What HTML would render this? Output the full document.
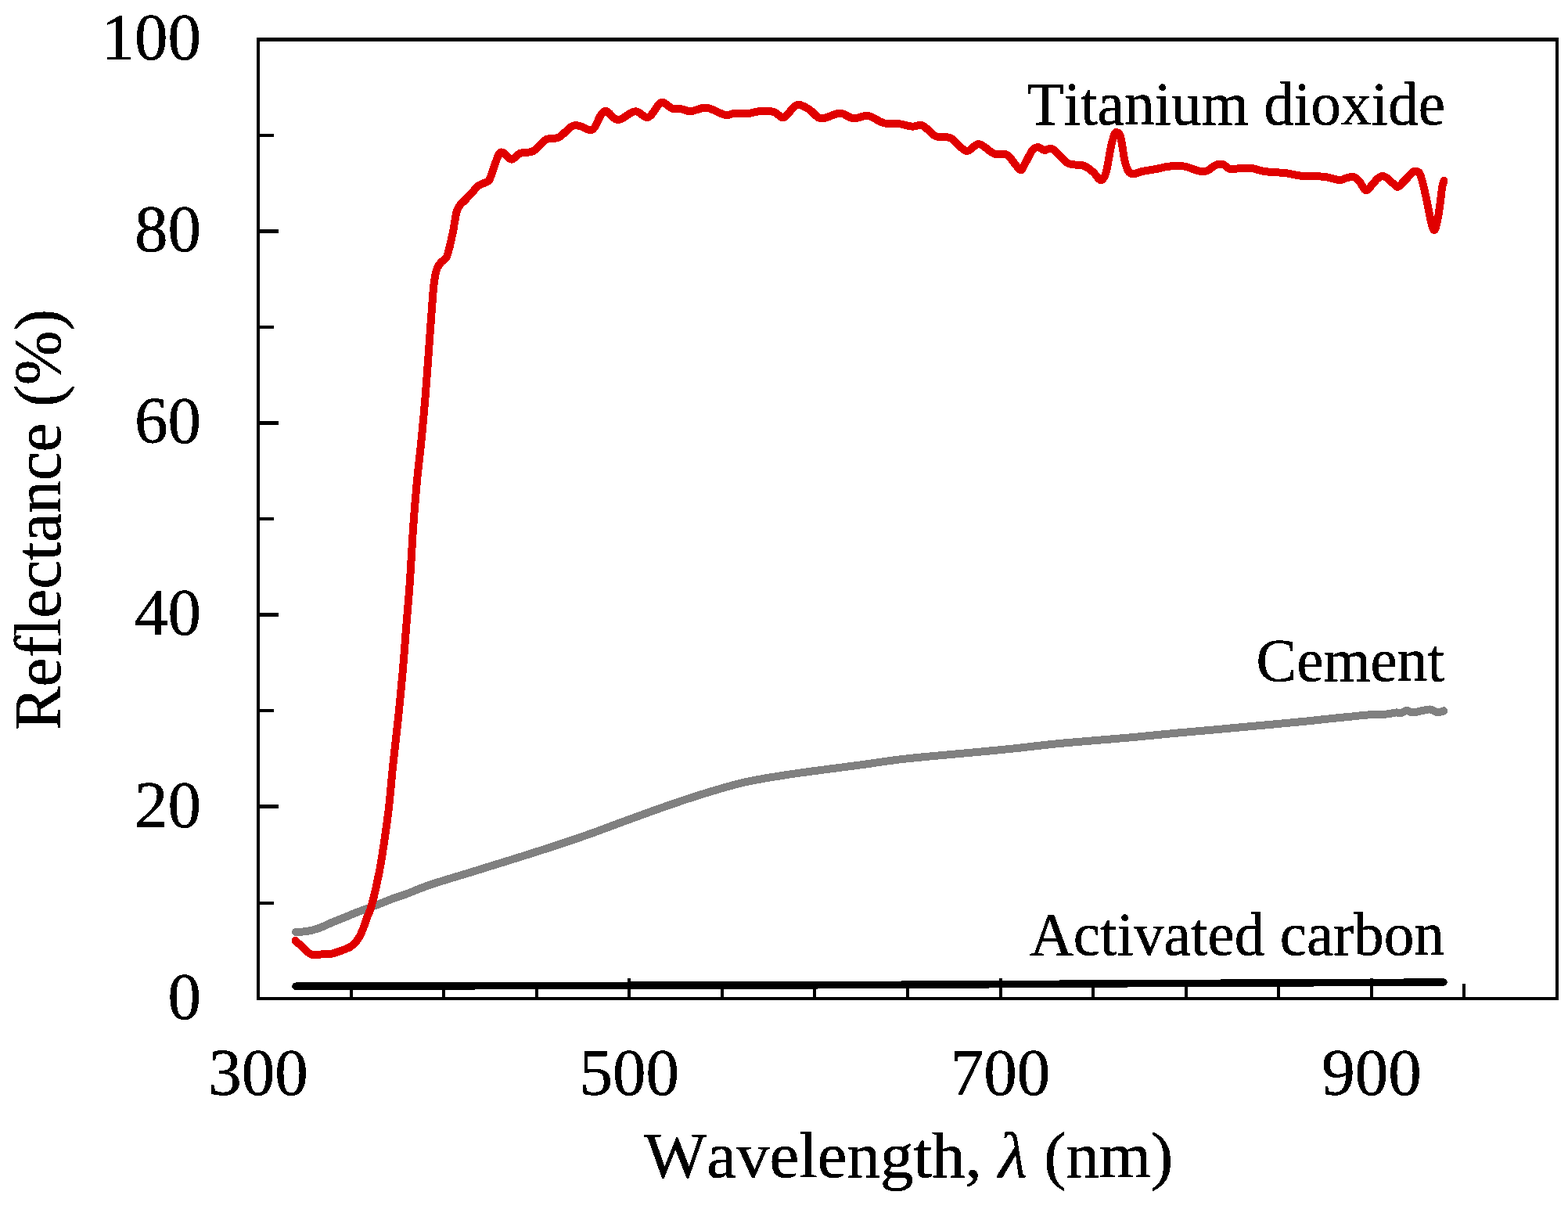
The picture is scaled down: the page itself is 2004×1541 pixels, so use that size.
<!DOCTYPE html>
<html lang="en"><head><meta charset="utf-8"><title>Reflectance spectra</title>
<style>
html,body{margin:0;padding:0;background:#fff;}
body{width:2004px;height:1541px;overflow:hidden;}
.chart{position:relative;width:2004px;height:1541px;background:#fff;overflow:hidden;}
svg{display:block;position:absolute;left:0;top:0;}
.txt{z-index:1;filter:contrast(1000);}
.plot{z-index:2;}
text{font-family:"Liberation Serif","DejaVu Serif",serif;fill:#000;font-kerning:none;stroke:#000;stroke-width:0.5px;stroke-linejoin:round;}
.tick{font-size:85px;}
.title{font-size:83.2px;}
.lab{font-size:77.3px;}
.ytitle{font-size:83.2px;}
</style></head><body>
<div class="chart">
<svg class="plot" width="2004" height="1541" viewBox="0 0 2004 1541">
<g fill="none" stroke-linecap="round" stroke-linejoin="round" shape-rendering="crispEdges">
<path stroke="#808080" stroke-width="10" d="M378.0 1191.0C380.3 1190.8 386.9 1190.8 391.9 1190.0C396.9 1189.2 402.6 1187.8 407.9 1185.9C413.2 1184.1 418.6 1181.1 423.9 1178.9C429.2 1176.7 434.5 1174.7 439.8 1172.5C445.1 1170.3 450.5 1168.0 455.8 1165.9C461.1 1163.8 466.5 1162.0 471.8 1160.0C477.1 1158.0 482.4 1156.1 487.7 1154.0C493.0 1151.9 498.3 1149.6 503.7 1147.6C509.1 1145.6 512.3 1144.9 520.0 1142.1C527.7 1139.2 536.7 1135.0 550.0 1130.5C563.3 1126.0 583.3 1120.2 600.0 1115.1C616.7 1109.9 633.3 1104.8 650.0 1099.6C666.7 1094.4 683.3 1089.2 700.0 1083.8C716.7 1078.4 733.3 1072.9 750.0 1067.0C766.7 1061.1 783.3 1054.7 800.0 1048.6C816.7 1042.5 833.3 1036.4 850.0 1030.6C866.7 1024.8 883.3 1019.1 900.0 1014.0C916.7 1008.9 933.3 1003.8 950.0 999.9C966.7 996.0 983.3 993.6 1000.0 990.9C1016.7 988.2 1033.3 986.1 1050.0 983.9C1066.7 981.6 1083.3 979.6 1100.0 977.4C1116.7 975.1 1133.3 972.4 1150.0 970.4C1166.7 968.4 1183.3 967.0 1200.0 965.4C1216.7 963.8 1233.3 962.5 1250.0 960.9C1266.7 959.3 1283.3 957.8 1300.0 956.0C1316.7 954.2 1333.3 952.0 1350.0 950.4C1366.7 948.8 1383.3 947.5 1400.0 946.1C1416.7 944.7 1433.3 943.4 1450.0 941.9C1466.7 940.4 1483.3 938.5 1500.0 937.0C1516.7 935.5 1533.3 934.1 1550.0 932.6C1566.7 931.1 1583.3 929.5 1600.0 928.0C1616.7 926.5 1637.5 924.6 1650.0 923.4C1662.5 922.2 1666.7 921.9 1675.0 921.0C1683.3 920.1 1691.8 919.1 1700.0 918.3C1708.2 917.4 1716.0 916.7 1724.0 915.9C1732.0 915.1 1740.0 914.1 1748.0 913.5C1756.0 912.9 1766.0 913.0 1772.0 912.5C1778.0 912.0 1780.6 910.8 1783.8 910.5C1787.0 910.2 1788.6 911.4 1791.0 911.0C1793.4 910.6 1795.8 908.0 1798.2 907.9C1800.6 907.8 1802.5 910.4 1805.4 910.5C1808.3 910.6 1812.1 909.2 1815.8 908.5C1819.5 907.8 1824.1 906.2 1827.7 906.5C1831.3 906.8 1834.4 910.0 1837.3 910.3C1840.2 910.6 1844.0 908.6 1845.3 908.3"/>
<path stroke="#e00000" stroke-width="10" d="M377.5 1202.0C378.6 1203.0 381.6 1205.6 384.0 1207.8C386.4 1210.0 389.5 1213.4 391.9 1215.4C394.3 1217.4 395.6 1218.9 398.3 1219.6C401.0 1220.3 405.0 1219.7 407.9 1219.6C410.8 1219.5 413.2 1219.4 415.9 1219.2C418.6 1219.0 421.2 1219.1 423.9 1218.6C426.6 1218.1 429.2 1217.1 431.9 1216.2C434.5 1215.3 437.1 1214.5 439.8 1213.4C442.5 1212.3 445.4 1211.3 447.8 1209.8C450.2 1208.3 452.2 1206.5 454.2 1204.3C456.2 1202.0 458.1 1199.4 459.8 1196.3C461.5 1193.2 462.9 1189.6 464.4 1185.9C465.8 1182.2 467.0 1178.0 468.5 1174.0C470.0 1170.0 471.8 1166.6 473.4 1161.9C474.9 1157.2 476.5 1151.3 477.8 1146.0C479.1 1140.7 479.8 1137.7 481.4 1130.0C483.0 1122.3 484.8 1115.5 487.3 1100.0C489.8 1084.5 493.9 1057.1 496.4 1036.8C498.9 1016.5 500.1 997.9 502.2 978.4C504.2 958.9 506.6 940.3 508.7 920.0C510.8 899.7 513.0 877.1 514.8 856.8C516.6 836.5 517.8 817.9 519.4 798.4C521.0 778.9 522.7 760.3 524.1 740.0C525.5 719.7 526.5 697.1 527.9 676.8C529.3 656.5 530.8 637.9 532.6 618.4C534.4 598.9 536.8 580.3 538.8 560.0C540.8 539.7 542.8 517.1 544.4 496.8C546.0 476.5 547.3 457.9 548.7 438.4C550.1 418.9 552.1 392.2 553.0 380.0C553.9 367.8 553.8 370.1 554.3 365.4C554.8 360.7 555.5 355.7 556.3 351.9C557.1 348.1 557.7 345.3 558.9 342.5C560.1 339.7 561.8 337.4 563.6 335.3C565.4 333.2 568.2 332.4 569.8 330.1C571.4 327.9 572.0 325.3 573.0 321.8C574.0 318.3 575.1 313.8 576.1 309.3C577.1 304.8 578.3 299.3 579.2 294.8C580.1 290.3 580.5 286.5 581.3 282.3C582.1 278.1 582.7 273.3 583.9 269.8C585.1 266.3 586.6 263.8 588.3 261.5C589.9 259.2 591.2 259.0 593.8 256.3C596.4 253.6 601.2 248.5 604.0 245.4C606.8 242.3 608.1 239.7 610.6 237.8C613.1 235.9 616.5 235.0 618.7 233.9C620.9 232.8 622.4 232.8 623.8 231.5C625.2 230.2 624.9 231.5 627.0 226.2C629.1 220.9 633.9 204.8 636.5 199.5C639.1 194.2 639.6 194.0 642.5 194.7C645.4 195.4 649.9 203.5 653.6 203.7C657.3 203.9 660.2 197.6 664.8 195.8C669.4 194.0 675.8 196.0 681.3 193.1C686.8 190.2 692.2 181.3 697.7 178.4C703.2 175.5 708.7 178.3 714.2 175.5C719.7 172.7 726.2 163.8 730.7 161.4C735.2 159.0 737.4 160.3 741.1 161.1C744.9 161.9 750.1 165.7 753.2 166.0C756.4 166.3 757.5 166.2 760.0 162.9C762.5 159.6 765.9 149.4 768.5 146.0C771.1 142.6 772.6 141.3 775.5 142.3C778.4 143.3 783.0 150.1 786.0 151.8C789.0 153.5 790.0 153.6 793.5 152.3C797.0 151.0 803.5 145.5 807.0 143.9C810.5 142.3 811.2 141.7 814.5 142.7C817.8 143.7 823.2 149.7 826.5 150.1C829.8 150.5 831.4 147.7 834.0 144.9C836.6 142.1 839.7 135.8 842.0 133.5C844.3 131.2 844.6 130.1 847.6 131.0C850.6 131.9 856.1 137.5 859.9 138.9C863.7 140.3 866.6 138.6 870.4 139.2C874.1 139.8 877.6 142.4 882.4 142.2C887.1 142.0 894.7 138.4 898.9 137.8C903.1 137.2 903.1 137.4 907.8 138.9C912.5 140.4 922.3 146.1 927.3 147.1C932.3 148.1 933.1 145.4 937.8 145.1C942.5 144.8 950.2 145.6 955.7 145.1C961.2 144.6 965.2 142.6 970.7 142.2C976.2 141.8 984.0 141.6 988.7 142.9C993.5 144.2 996.5 149.3 999.2 150.1C1001.9 150.9 1002.5 149.9 1005.0 147.8C1007.5 145.7 1011.2 139.7 1014.0 137.4C1016.8 135.1 1018.1 133.4 1021.6 133.9C1025.1 134.4 1031.0 137.7 1035.0 140.4C1039.0 143.1 1042.3 148.3 1045.6 150.0C1048.9 151.7 1050.6 151.4 1054.6 150.6C1058.6 149.8 1065.8 146.2 1069.5 145.3C1073.2 144.4 1073.5 144.3 1077.0 145.3C1080.5 146.3 1086.0 150.8 1090.5 151.3C1095.0 151.8 1100.4 148.9 1104.0 148.4C1107.6 147.9 1107.7 147.1 1112.0 148.6C1116.3 150.1 1123.9 155.7 1129.9 157.3C1135.9 158.9 1141.9 157.3 1147.9 158.0C1153.9 158.7 1160.7 161.2 1165.9 161.6C1171.1 162.0 1174.3 158.5 1179.3 160.6C1184.3 162.7 1189.8 171.3 1195.8 174.0C1201.8 176.7 1208.8 173.5 1215.3 176.6C1221.8 179.7 1228.7 191.5 1234.7 192.8C1240.7 194.1 1245.2 183.6 1251.2 184.2C1257.2 184.8 1264.7 194.2 1270.7 196.5C1276.7 198.8 1281.6 194.6 1287.1 198.0C1292.6 201.4 1299.8 214.6 1303.5 216.7C1307.2 218.8 1306.2 214.9 1309.0 210.7C1311.8 206.5 1316.9 195.0 1320.0 191.3C1323.1 187.6 1325.0 188.2 1327.5 188.3C1330.0 188.4 1332.0 191.6 1335.0 192.0C1338.0 192.4 1340.5 187.8 1345.5 190.6C1350.5 193.3 1358.5 205.0 1365.0 208.5C1371.5 212.0 1379.1 209.6 1384.4 211.5C1389.7 213.4 1393.3 216.7 1397.0 219.8C1400.7 222.9 1404.0 229.9 1406.7 230.2C1409.4 230.4 1411.3 228.0 1413.4 221.3C1415.5 214.6 1417.6 198.0 1419.4 189.8C1421.2 181.6 1422.9 175.3 1424.3 171.9C1425.7 168.5 1426.7 168.8 1428.0 169.3C1429.3 169.8 1430.6 169.0 1432.2 174.9C1433.8 180.8 1435.8 197.6 1437.4 204.8C1439.0 212.0 1440.2 215.4 1441.9 218.3C1443.6 221.2 1444.8 222.4 1447.8 222.5C1450.8 222.6 1454.8 220.1 1459.8 219.0C1464.8 217.9 1472.0 217.1 1477.8 216.0C1483.5 214.9 1488.3 213.2 1494.3 212.6C1500.3 212.0 1507.5 211.6 1513.7 212.6C1519.9 213.6 1527.0 217.4 1531.7 218.4C1536.5 219.4 1538.5 219.7 1542.2 218.4C1545.9 217.1 1550.6 212.2 1554.1 210.8C1557.6 209.4 1560.1 209.1 1563.1 210.0C1566.1 210.9 1568.3 215.2 1572.1 216.0C1575.8 216.8 1580.9 215.2 1585.6 215.0C1590.3 214.8 1595.5 214.3 1600.5 215.0C1605.5 215.7 1608.2 217.9 1615.5 219.0C1622.8 220.1 1636.0 220.3 1644.0 221.3C1652.0 222.3 1655.4 224.1 1663.4 224.8C1671.4 225.6 1683.9 224.9 1691.9 225.8C1699.9 226.7 1706.8 229.6 1711.3 230.0C1715.8 230.4 1716.5 228.7 1719.0 228.0C1721.5 227.3 1724.0 226.4 1726.0 226.1C1728.0 225.8 1729.1 225.3 1731.0 226.3C1732.9 227.3 1735.0 229.2 1737.5 232.0C1740.0 234.8 1743.0 242.8 1745.7 243.4C1748.5 244.0 1751.5 238.0 1754.0 235.5C1756.5 233.0 1758.3 230.2 1760.5 228.5C1762.7 226.8 1764.8 225.1 1767.0 225.0C1769.2 224.9 1771.3 226.5 1773.5 228.0C1775.7 229.5 1777.8 232.2 1780.0 234.0C1782.2 235.8 1784.3 239.0 1786.5 238.8C1788.7 238.6 1790.9 235.0 1793.0 233.0C1795.1 231.0 1797.2 228.9 1799.3 226.7C1801.4 224.5 1803.7 221.2 1805.4 219.9C1807.2 218.6 1808.5 218.8 1809.8 218.8C1811.1 218.9 1812.4 219.3 1813.4 220.2C1814.4 221.1 1814.5 220.9 1815.6 224.2C1816.7 227.5 1818.5 234.6 1819.8 239.9C1821.1 245.2 1822.3 250.6 1823.4 255.9C1824.5 261.2 1825.4 266.6 1826.5 271.9C1827.6 277.2 1828.9 283.8 1830.0 287.5C1831.1 291.2 1831.9 294.0 1832.9 294.0C1833.9 294.0 1834.8 291.2 1835.8 287.5C1836.8 283.8 1838.0 277.2 1838.9 271.9C1839.8 266.6 1840.4 261.2 1841.1 255.9C1841.8 250.6 1842.4 244.1 1843.1 239.9C1843.8 235.7 1845.0 232.4 1845.4 230.9"/>
<polyline stroke="#000" stroke-width="9.5" points="378.00,1260.20 607.00,1259.75 805.00,1259.25 1045.00,1258.75 1152.00,1258.25 1264.00,1257.75 1354.00,1257.25 1444.00,1256.75 1560.00,1256.25 1679.00,1255.75 1794.00,1255.25 1845.00,1255.00"/>
</g>
<g fill="#000" shape-rendering="crispEdges">
<rect x="328" y="48" width="4" height="1230"/>
<rect x="1988" y="48" width="4" height="1230"/>
<rect x="328" y="48" width="1664" height="4.6"/>
<rect x="328" y="1274" width="1664" height="4"/>
<rect x="446.6" y="1257.0" width="4" height="17.0"/>
<rect x="565.1" y="1257.0" width="4" height="17.0"/>
<rect x="683.7" y="1257.0" width="4" height="17.0"/>
<rect x="802.3" y="1250.0" width="4" height="24.0"/>
<rect x="920.9" y="1257.0" width="4" height="17.0"/>
<rect x="1039.4" y="1257.0" width="4" height="17.0"/>
<rect x="1158.0" y="1257.0" width="4" height="17.0"/>
<rect x="1276.6" y="1250.0" width="4" height="24.0"/>
<rect x="1395.1" y="1257.0" width="4" height="17.0"/>
<rect x="1513.7" y="1257.0" width="4" height="17.0"/>
<rect x="1632.3" y="1257.0" width="4" height="17.0"/>
<rect x="1750.9" y="1250.0" width="4" height="24.0"/>
<rect x="1869.4" y="1257.0" width="4" height="17.0"/>
<rect x="332" y="1152" width="18" height="4"/>
<rect x="332" y="1028" width="24" height="5"/>
<rect x="332" y="906" width="18" height="4"/>
<rect x="332" y="783" width="24" height="5"/>
<rect x="332" y="661" width="18" height="4"/>
<rect x="332" y="538" width="24" height="5"/>
<rect x="332" y="416" width="18" height="4"/>
<rect x="332" y="293" width="24" height="5"/>
<rect x="332" y="171" width="18" height="4"/>
</g>
</svg>
<svg class="txt" width="2004" height="1541" viewBox="0 0 2004 1541">
<rect x="0" y="0" width="2004" height="1541" fill="#fff"/>
<g>
<g class="tick" text-anchor="end">
<text x="257" y="1301.6">0</text>
<text x="257" y="1056.5">20</text>
<text x="257" y="811.3">40</text>
<text x="257" y="566.2">60</text>
<text x="257" y="321.0">80</text>
<text x="257" y="75.9">100</text>
</g>
<g class="tick" text-anchor="middle">
<text x="330.0" y="1399">300</text>
<text x="804.3" y="1399">500</text>
<text x="1278.6" y="1399">700</text>
<text x="1752.9" y="1399">900</text>
</g>
<text class="title" text-anchor="middle" transform="translate(1161.2,1504.3) scale(1.0216,1)">Wavelength, <tspan font-style="italic">λ</tspan> (nm)</text>
<text class="ytitle" text-anchor="middle" transform="translate(77,664) rotate(-90) scale(1,1.02)">Reflectance (%)</text>
<g class="lab" text-anchor="end">
<text x="1847" y="159">Titanium dioxide</text>
<text x="1846" y="870">Cement</text>
<text x="1846" y="1220">Activated carbon</text>
</g>
</g>
</svg>
</div>
</body></html>
